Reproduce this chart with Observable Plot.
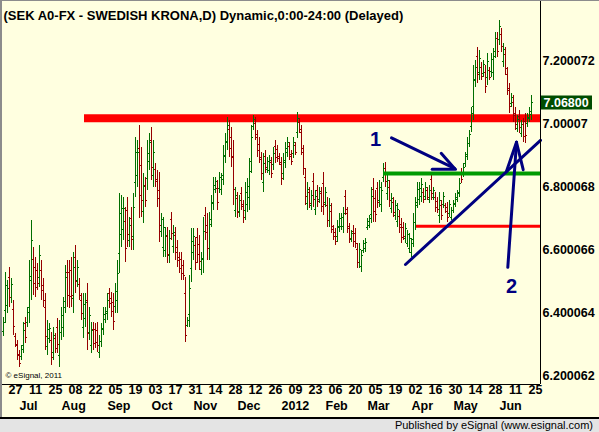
<!DOCTYPE html>
<html><head><meta charset="utf-8">
<script src="https://cdn.jsdelivr.net/npm/d3@7"></script>
<script src="https://cdn.jsdelivr.net/npm/@observablehq/plot@0.6"></script>
<style>
html,body{margin:0;padding:0;background:#fff;}
#wrap{position:relative;width:599px;height:432px;overflow:hidden;background:#ffffe0;font-family:"Liberation Sans",Arial,sans-serif;}
#chart svg{display:block;}
#border{position:absolute;left:0;top:0;width:599px;height:417px;border-left:2px solid #8c8c8c;border-top:1px solid #8c8c8c;box-sizing:border-box;pointer-events:none;}
#footer{position:absolute;left:0;top:417px;width:599px;height:15px;background:#e4e4e4;border-top:2px solid #000;box-sizing:border-box;font-size:11px;text-align:right;padding-right:6px;line-height:12px;color:#000;}
</style></head>
<body>
<div id="wrap"><div id="chart"></div><div id="border"></div><div id="footer">Published by eSignal (www.esignal.com)</div></div>
<script>
const titleText = "(SEK A0-FX - SWEDISH KRONA,D) Dynamic,0:00-24:00 (Delayed)";
const copyrightText = "© eSignal, 2011";

// daily OHLC bars (trading-day index 0 = 17 Jun 2011)
const open = [
6.341,6.408,6.424,6.513,6.449,6.411,6.325,6.297,6.268,6.262,
6.297,6.367,6.370,6.417,6.503,6.570,6.544,6.535,6.513,6.535,
6.487,6.417,6.294,6.319,6.313,6.275,6.319,6.354,6.265,6.338,
6.354,6.436,6.529,6.529,6.535,6.446,6.576,6.503,6.490,6.440,
6.354,6.383,6.440,6.338,6.297,6.348,6.348,6.344,6.275,6.310,
6.351,6.379,6.398,6.462,6.446,6.433,6.421,6.440,6.589,6.649,
6.665,6.690,6.725,6.630,6.700,6.643,6.814,6.836,6.922,6.868,
6.722,6.805,6.827,6.881,6.948,6.836,6.856,6.824,6.789,6.659,
6.608,6.598,6.643,6.583,6.697,6.611,6.646,6.608,6.576,6.570,
6.551,6.462,6.360,6.395,6.541,6.592,6.614,6.640,6.617,6.538,
6.570,6.709,6.678,6.605,6.697,6.751,6.792,6.795,6.795,6.792,
6.836,6.897,6.941,6.982,6.957,6.897,6.725,6.763,6.722,6.779,
6.738,6.725,6.744,6.767,6.881,6.992,7.002,6.957,6.935,6.887,
6.814,6.897,6.856,6.852,6.878,6.871,6.929,6.919,6.897,6.871,
6.843,6.878,6.909,6.929,6.903,6.906,6.932,6.973,7.005,6.973,
6.909,6.830,6.748,6.782,6.741,6.817,6.729,6.789,6.760,6.779,
6.811,6.751,6.741,6.694,6.722,6.665,6.655,6.643,6.671,6.675,
6.675,6.770,6.716,6.668,6.633,6.659,6.652,6.602,6.560,6.548,
6.598,6.605,6.671,6.678,6.713,6.792,6.763,6.795,6.757,6.744,
6.830,6.859,6.779,6.798,6.732,6.751,6.709,6.690,6.706,6.681,
6.671,6.636,6.621,6.605,6.592,6.633,6.687,6.751,6.760,6.770,
6.782,6.770,6.789,6.760,6.824,6.767,6.767,6.754,6.709,6.741,
6.744,6.741,6.735,6.716,6.703,6.725,6.744,6.760,6.782,6.846,
6.843,6.875,6.903,6.938,6.992,7.056,7.138,7.214,7.163,7.179,
7.160,7.163,7.148,7.170,7.167,7.163,7.230,7.271,7.268,7.284,
7.198,7.221,7.157,7.106,7.065,7.068,7.033,6.986,7.024,6.970,
6.998,7.008,7.002,7.017,7.030];
const high = [
6.386,6.529,6.503,6.544,6.509,6.440,6.335,6.313,6.281,6.297,
6.370,6.386,6.417,6.567,6.694,6.608,6.576,6.557,6.614,6.567,
6.509,6.462,6.376,6.367,6.338,6.354,6.335,6.383,6.376,6.417,
6.449,6.551,6.567,6.567,6.576,6.592,6.614,6.567,6.509,6.462,
6.462,6.462,6.494,6.417,6.370,6.370,6.367,6.370,6.329,6.367,
6.417,6.417,6.462,6.478,6.465,6.462,6.494,6.567,6.779,6.773,
6.767,6.735,6.767,6.703,6.735,6.779,6.957,6.948,6.995,6.925,
6.843,6.830,6.948,6.970,6.989,6.948,6.875,6.852,6.846,6.716,
6.703,6.671,6.671,6.662,6.719,6.678,6.671,6.630,6.592,6.592,
6.567,6.513,6.386,6.519,6.668,6.668,6.640,6.668,6.646,6.592,
6.703,6.735,6.716,6.719,6.773,6.830,6.830,6.821,6.846,6.843,
6.932,6.970,7.021,7.011,6.989,6.948,6.798,6.782,6.773,6.798,
6.757,6.814,6.827,6.890,6.995,7.027,7.021,6.979,6.957,6.909,
6.906,6.916,6.894,6.900,6.894,6.925,6.948,6.932,6.906,6.894,
6.906,6.941,6.957,6.941,6.916,6.957,6.941,7.036,7.017,6.995,
6.932,6.859,6.814,6.798,6.789,6.843,6.789,6.805,6.798,6.798,
6.846,6.798,6.767,6.763,6.748,6.678,6.668,6.694,6.716,6.716,
6.735,6.789,6.735,6.684,6.662,6.678,6.668,6.621,6.621,6.598,
6.630,6.636,6.700,6.709,6.798,6.827,6.789,6.814,6.821,6.814,
6.875,6.878,6.843,6.821,6.779,6.767,6.757,6.748,6.725,6.700,
6.687,6.684,6.662,6.652,6.636,6.716,6.767,6.814,6.814,6.827,
6.795,6.814,6.798,6.805,6.846,6.798,6.782,6.767,6.782,6.757,
6.782,6.748,6.751,6.757,6.735,6.757,6.779,6.789,6.827,6.859,
6.875,6.909,6.957,6.979,7.052,7.186,7.202,7.243,7.233,7.195,
7.202,7.186,7.224,7.179,7.224,7.240,7.290,7.290,7.329,7.303,
7.256,7.243,7.179,7.129,7.097,7.090,7.052,7.027,7.043,7.011,
7.017,7.033,7.033,7.052,7.090];
const low = [
6.325,6.367,6.398,6.417,6.430,6.329,6.290,6.249,6.227,6.249,
6.271,6.303,6.354,6.367,6.440,6.456,6.449,6.471,6.481,6.440,
6.417,6.281,6.265,6.303,6.233,6.249,6.271,6.271,6.227,6.313,
6.322,6.398,6.417,6.414,6.417,6.398,6.462,6.481,6.440,6.376,
6.319,6.354,6.281,6.313,6.271,6.281,6.287,6.275,6.256,6.290,
6.329,6.367,6.376,6.414,6.386,6.344,6.398,6.398,6.525,6.608,
6.630,6.560,6.608,6.608,6.598,6.598,6.767,6.798,6.700,6.703,
6.684,6.735,6.789,6.852,6.821,6.798,6.798,6.735,6.624,6.640,
6.576,6.576,6.557,6.557,6.630,6.589,6.567,6.544,6.525,6.503,
6.503,6.306,6.354,6.354,6.497,6.567,6.535,6.557,6.535,6.519,
6.525,6.630,6.567,6.567,6.671,6.725,6.779,6.725,6.779,6.773,
6.805,6.875,6.916,6.894,6.862,6.741,6.703,6.700,6.703,6.725,
6.684,6.694,6.719,6.725,6.843,6.979,6.948,6.894,6.875,6.821,
6.782,6.843,6.843,6.836,6.827,6.852,6.875,6.878,6.868,6.805,
6.821,6.859,6.894,6.884,6.868,6.890,6.900,6.954,6.970,6.900,
6.836,6.741,6.725,6.732,6.725,6.735,6.709,6.735,6.748,6.719,
6.709,6.735,6.671,6.671,6.652,6.630,6.614,6.624,6.655,6.662,
6.652,6.709,6.652,6.621,6.624,6.608,6.605,6.541,6.541,6.529,
6.589,6.592,6.662,6.668,6.684,6.687,6.687,6.732,6.735,6.719,
6.814,6.798,6.757,6.735,6.716,6.703,6.694,6.671,6.652,6.621,
6.630,6.621,6.608,6.589,6.576,6.608,6.662,6.732,6.741,6.751,
6.748,6.757,6.757,6.748,6.757,6.757,6.719,6.716,6.684,6.694,
6.732,6.716,6.687,6.703,6.694,6.716,6.735,6.751,6.767,6.811,
6.830,6.862,6.884,6.925,6.973,7.011,7.116,7.129,7.138,7.138,
7.148,7.097,7.122,7.138,7.148,7.138,7.208,7.211,7.249,7.227,
7.179,7.154,7.090,7.033,7.052,7.005,6.979,6.973,6.970,6.957,
6.941,6.938,6.989,7.005,7.011];
const close = [
6.370,6.487,6.478,6.449,6.490,6.357,6.300,6.265,6.240,6.284,
6.344,6.322,6.402,6.516,6.630,6.494,6.481,6.494,6.583,6.471,
6.440,6.325,6.348,6.351,6.259,6.329,6.287,6.300,6.338,6.392,
6.417,6.513,6.456,6.452,6.456,6.544,6.500,6.544,6.456,6.398,
6.427,6.433,6.335,6.392,6.344,6.303,6.306,6.297,6.310,6.348,
6.395,6.405,6.440,6.430,6.405,6.373,6.468,6.525,6.716,6.732,
6.732,6.605,6.649,6.678,6.633,6.735,6.909,6.909,6.773,6.757,
6.802,6.757,6.906,6.941,6.862,6.909,6.817,6.763,6.678,6.697,
6.671,6.646,6.586,6.636,6.652,6.655,6.592,6.567,6.541,6.525,
6.519,6.330,6.376,6.478,6.627,6.643,6.560,6.586,6.563,6.573,
6.659,6.655,6.605,6.681,6.748,6.805,6.817,6.751,6.830,6.824,
6.900,6.944,6.995,6.922,6.894,6.792,6.773,6.719,6.757,6.744,
6.703,6.782,6.802,6.849,6.957,7.014,6.967,6.916,6.894,6.843,
6.875,6.862,6.881,6.884,6.843,6.906,6.894,6.890,6.878,6.827,
6.884,6.922,6.941,6.897,6.881,6.941,6.909,7.017,6.982,6.922,
6.859,6.770,6.792,6.748,6.773,6.760,6.770,6.754,6.786,6.738,
6.744,6.782,6.694,6.741,6.675,6.643,6.627,6.675,6.700,6.703,
6.716,6.729,6.675,6.636,6.652,6.627,6.621,6.560,6.602,6.583,
6.621,6.624,6.690,6.700,6.770,6.722,6.713,6.751,6.798,6.789,
6.859,6.817,6.821,6.757,6.763,6.719,6.741,6.729,6.671,6.640,
6.643,6.668,6.649,6.636,6.621,6.687,6.741,6.792,6.795,6.808,
6.760,6.798,6.767,6.789,6.779,6.789,6.735,6.729,6.757,6.709,
6.770,6.722,6.703,6.744,6.725,6.748,6.767,6.779,6.811,6.824,
6.862,6.897,6.938,6.967,7.033,7.141,7.179,7.157,7.208,7.151,
7.189,7.119,7.198,7.148,7.205,7.214,7.271,7.230,7.309,7.246,
7.236,7.176,7.113,7.056,7.084,7.027,6.998,7.014,6.989,6.998,
6.960,6.963,7.021,7.040,7.068];

// axis labels
const dayLabels = ["27","11","25","08","22","05","19","03","17","31","14","28","12","26","09","23","06","20","05","19","02","16","30","14","28","11","25"];
const dayIndex = [6,16,26,36,46,56,66,76,86,96,106,116,126,136,146,156,166,176,186,196,206,216,226,236,246,256,266];
const monthLabels = ["Jul","Aug","Sep","Oct","Nov","Dec","2012","Feb","Mar","Apr","May","Jun"];
const monthIndex = [10,31,54,76,97,119,141,163,184,206,227,250];
const yTickValues = [7.200072, 7.00007, 6.800068, 6.600066, 6.400064, 6.200062];
const yTickLabels = ["7.200072","7.00007","6.800068","6.600066","6.400064","6.200062"];
const lastPrice = 7.068;

// analyst annotations
const resistanceLevel = 7.018, resistanceStart = 40.5;
const greenLevel = 6.843, greenStart = 190;
const supportLevel = 6.675, supportStart = 206.5;
const segX1 = [201.0, 194.0, 218.85, 214.35, 252.15, 251.5, 259.85];
const segY1 = [6.554, 6.956, 6.907, 6.856, 6.545, 6.850, 6.855];
const segX2 = [268.5, 225.5, 225.5, 226.0, 256.5, 256.5, 256.5];
const segY2 = [6.948, 6.859, 6.859, 6.856, 6.942, 6.942, 6.942];
const noteLabels = ["1","2"];
const noteX = [186, 254];
const noteY = [6.950, 6.484];

const xDomain = [0, 268.5];
const yDomain = [6.17301, 7.39206];

const bars = open.map((o, i) => ({i, o, h: high[i], l: low[i], c: close[i]}));
const upBars = bars.filter(d => d.c >= d.o);
const downBars = bars.filter(d => d.c < d.o);
const GREEN = "#006e00", RED = "#960000", NAVY = "#000080";
const font = "Liberation Sans, Arial, sans-serif";

function barMarks(data, col) {
  return [
    Plot.ruleX(data, {x: "i", y1: "l", y2: "h", stroke: col, strokeWidth: 1, shapeRendering: "crispEdges"}),
    Plot.ruleY(data, {y: "o", x1: d => d.i - 0.5, x2: d => d.i, stroke: col, strokeWidth: 1, shapeRendering: "crispEdges"}),
    Plot.ruleY(data, {y: "c", x1: d => d.i + 0.5, x2: d => d.i + 1, stroke: col, strokeWidth: 1, shapeRendering: "crispEdges"})
  ];
}

const segs = segX1.map((x, k) => ({x1: x, y1: segY1[k], x2: segX2[k], y2: segY2[k]}));

const chart = Plot.plot({
  width: 599, height: 417,
  marginLeft: 3, marginRight: 59, marginTop: 0, marginBottom: 33,
  style: {background: "#ffffe0", fontFamily: font, overflow: "visible"},
  x: {domain: xDomain, axis: null},
  y: {domain: yDomain, axis: null},
  marks: [
    Plot.ruleY([resistanceLevel], {x1: resistanceStart, x2: xDomain[1], stroke: "#ff0000", strokeWidth: 8}),
    ...barMarks(upBars, GREEN),
    ...barMarks(downBars, RED),
    Plot.ruleY([greenLevel], {x1: greenStart, x2: xDomain[1], stroke: "#009a00", strokeWidth: 4}),
    Plot.ruleY([supportLevel], {x1: supportStart, x2: xDomain[1], stroke: "#ff0000", strokeWidth: 3}),
    Plot.link(segs, {x1: "x1", y1: "y1", x2: "x2", y2: "y2", stroke: NAVY, strokeWidth: 3, strokeLinecap: "round"}),
    Plot.text(noteLabels, {x: (d, k) => noteX[k], y: (d, k) => noteY[k], text: d => d, fill: NAVY, fontSize: 20, fontWeight: "bold", fontFamily: font}),
    // axes lines
    Plot.ruleY([yDomain[0]], {stroke: "#000", strokeWidth: 1, insetLeft: -3}),
    Plot.ruleX([xDomain[1]], {stroke: "#000", strokeWidth: 1}),
    // y labels
    Plot.text(yTickValues, {y: d => d, text: (d, k) => yTickLabels[k], frameAnchor: "right", textAnchor: "start", dx: 2, fontSize: 12.5, fontWeight: "bold", fill: "#000", fontFamily: font}),
    // last price box
    Plot.ruleY([lastPrice], {stroke: "#004d00", strokeWidth: 14, insetLeft: 538, insetRight: -52}),
    Plot.text([lastPrice], {y: d => d, text: d => d.toFixed(5), frameAnchor: "right", textAnchor: "start", dx: 3, fontSize: 12.5, fontWeight: "bold", fill: "#ffffff", fontFamily: font}),
    // x labels
    Plot.text(dayLabels, {x: (d, k) => dayIndex[k], text: d => d, frameAnchor: "bottom", dy: 9, fontSize: 12.5, fontWeight: "bold", fill: "#000", fontFamily: font}),
    Plot.text(monthLabels, {x: (d, k) => monthIndex[k], text: d => d, frameAnchor: "bottom", dy: 25, dx: -4, textAnchor: "start", fontSize: 12.5, fontWeight: "bold", fill: "#000", fontFamily: font}),
    // title and copyright
    Plot.text([titleText], {frameAnchor: "top-left", dy: 10, textAnchor: "start", fontSize: 13, fontWeight: "bold", fill: "#000", fontFamily: font}),
    Plot.text([copyrightText], {frameAnchor: "bottom-left", dx: 2, dy: -7, textAnchor: "start", fontSize: 8, fill: "#000", fontFamily: font})
  ]
});
document.getElementById("chart").appendChild(chart);
</script>
</body></html>
